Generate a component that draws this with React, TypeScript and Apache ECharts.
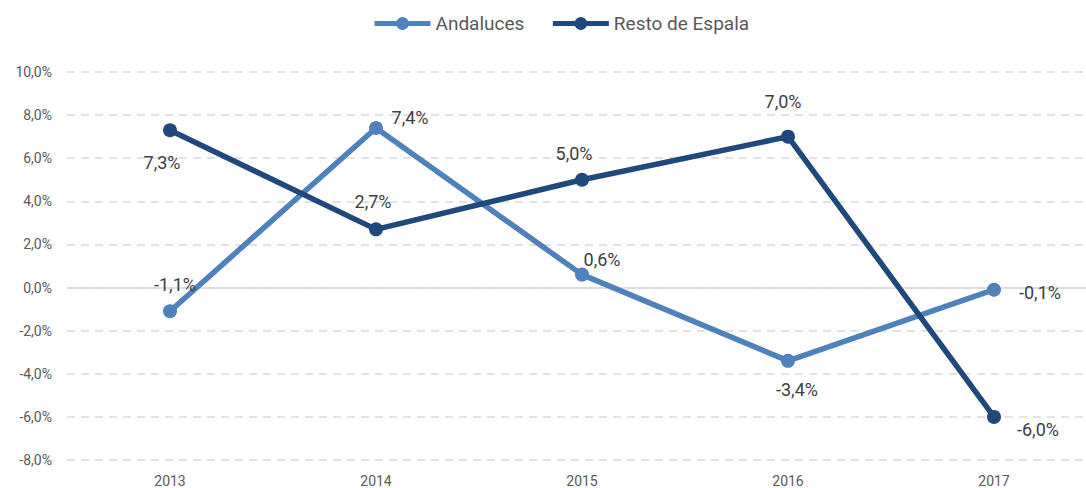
import React, { useEffect, useRef } from "react";
import * as echarts from "echarts";

const categories = ["2013", "2014", "2015", "2016", "2017"];
const andaluces = [-1.1, 7.4, 0.6, -3.4, -0.1];
const restoEspana = [7.3, 2.7, 5.0, 7.0, -6.0];
const seriesNames = ["Andaluces", "Resto de Espala"];
// label offsets relative to the point (dx, dy)
const andalucesLabelOffsets = [[5, -27], [34, -11], [20, -15], [9, 29], [46, 3]];
const restoLabelOffsets = [[-8, 32], [-3, -28], [-8, -26], [-5, -35], [44, 13]];

const fmt = (v: number) => v.toFixed(1).replace(".", ",") + "%";
const FONT = "Roboto, 'Noto Sans', sans-serif";

export default function App() {
  const ref = useRef<HTMLDivElement>(null);
  useEffect(() => {
    if (!ref.current) return;
    const chart = echarts.init(ref.current, undefined, { renderer: "svg" });
    const mk = (vals: number[], offs: number[][]) =>
      vals.map((v, i) => ({
        value: v,
        label: {
          show: true,
          position: "inside",
          offset: offs[i],
          formatter: (p: any) => fmt(p.value),
          color: "#404040",
          fontSize: 18,
          fontFamily: FONT,
        },
      }));
    chart.setOption({
      animation: false,
      textStyle: { fontFamily: FONT },
      legend: {
        top: 9,
        left: 367,
        itemWidth: 56,
        itemHeight: 16,
        itemGap: 26,
        lineStyle: { width: 5 },
        textStyle: { fontSize: 19, color: "#595959", fontFamily: FONT },
        data: seriesNames,
      },
      grid: { left: 67, top: 72, right: 3, bottom: 28, containLabel: false },
      xAxis: {
        type: "category",
        data: categories,
        boundaryGap: true,
        axisLine: { show: false },
        axisTick: { show: false },
        axisLabel: { color: "#595959", fontSize: 14, margin: 14, fontFamily: FONT },
      },
      yAxis: {
        type: "value",
        min: -8,
        max: 10,
        interval: 2,
        axisLine: { show: false },
        axisTick: { show: false },
        axisLabel: {
          color: "#595959",
          fontSize: 14,
          margin: 15,
          fontFamily: FONT,
          formatter: (v: number) => fmt(v),
        },
        splitLine: { lineStyle: { color: "#D9D9D9", type: [8, 6], width: 1.5 } },
      },
      series: [
        {
          name: seriesNames[0],
          type: "line",
          data: mk(andaluces, andalucesLabelOffsets),
          symbol: "circle",
          symbolSize: 14,
          itemStyle: { color: "#4F81BD" },
          lineStyle: { color: "#4F81BD", width: 5.5 },
          z: 3,
          markLine: {
            silent: true,
            symbol: "none",
            label: { show: false },
            lineStyle: { color: "#D9D9D9", type: "solid", width: 1.5 },
            data: [{ yAxis: 0 }],
            z: 1,
          },
        },
        {
          name: seriesNames[1],
          type: "line",
          data: mk(restoEspana, restoLabelOffsets),
          symbol: "circle",
          symbolSize: 14,
          itemStyle: { color: "#1F497D" },
          lineStyle: { color: "#1F497D", width: 5.5 },
          z: 4,
        },
      ],
    });
    return () => chart.dispose();
  }, []);
  return (
    <div style={{ position: "absolute", left: 0, top: 0, width: 1086, height: 488, overflow: "hidden", background: "#fff" }}>
      <div ref={ref} style={{ width: 1100, height: 488 }} />
    </div>
  );
}
